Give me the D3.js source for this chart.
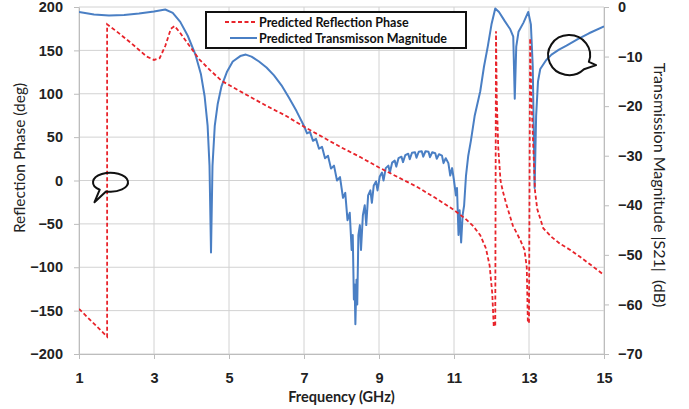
<!DOCTYPE html>
<html>
<head>
<meta charset="utf-8">
<script src="https://cdn.jsdelivr.net/npm/d3@7"></script>
<style>
  body { margin: 0; background: #fff; }
  svg { display: block; font-family: Lato, "Open Sans", sans-serif; }
  .tick text { font-weight: bold; font-size: 14.5px; fill: #222; }
  .domain, .tick line { stroke: #bdbdbd; }
</style>
</head>
<body>
<div id="chart-area"></div>
<script>
// reflection phase (deg), left axis
const phaseFreq = [1.0, 1.75, 1.75, 2.0, 2.4, 2.8, 3.0, 3.15, 3.3, 3.45, 3.55, 3.7, 3.9, 4.2, 4.5, 4.8, 5.0, 5.5, 6.0, 6.5, 7.0, 7.5, 8.0, 8.5, 9.0, 9.5, 10.0, 10.5, 11.0, 11.3, 11.5, 11.7, 11.85, 11.95, 12.02, 12.06, 12.1, 12.12, 12.14, 12.18, 12.24, 12.3, 12.4, 12.57, 12.76, 12.88, 12.94, 12.97, 13.0, 13.03, 13.06, 13.1, 13.16, 13.22, 13.38, 13.6, 13.83, 14.1, 14.36, 14.7, 15.0];
const phaseDeg = [-148, -180, 180, 172, 158, 143, 139, 141, 155, 175, 178, 170, 158, 140, 127, 115, 110, 98, 86, 75, 62, 50, 38, 27, 15, 4, -7, -20, -34, -44, -52, -63, -78, -98, -130, -168, -168, 172, 95, 38, 0, -12, -28, -52, -68, -80, -100, -164, -164, 164, 100, 55, -12, -33, -55, -65, -73, -80, -88, -99, -109];

// transmission magnitude |S21| (dB), right axis
const magFreq = [1.0, 1.4, 1.8, 2.2, 2.6, 3.0, 3.3, 3.5, 3.7, 3.9, 4.1, 4.25, 4.35, 4.43, 4.48, 4.52, 4.56, 4.62, 4.7, 4.8, 4.95, 5.1, 5.3, 5.45, 5.6, 5.8, 6.0, 6.2, 6.4, 6.6, 6.8,
  7.0, 7.08, 7.16, 7.24, 7.32, 7.4, 7.48, 7.56, 7.64, 7.72, 7.8, 7.88, 7.96, 8.04, 8.1, 8.16, 8.22, 8.27, 8.3, 8.33, 8.35, 8.37, 8.4, 8.42, 8.45, 8.49, 8.52, 8.57, 8.62, 8.66, 8.71, 8.77, 8.81, 8.86, 8.92, 8.96,
  9.02, 9.08, 9.12, 9.18, 9.25, 9.29, 9.35, 9.42, 9.46, 9.52, 9.6, 9.64, 9.7, 9.78, 9.82, 9.88, 9.96, 10.0, 10.06, 10.14, 10.18, 10.24, 10.32, 10.36, 10.42, 10.5, 10.54, 10.6, 10.68, 10.72, 10.78, 10.85, 10.9, 10.95,
  11.0, 11.05, 11.08, 11.12, 11.15, 11.19, 11.23, 11.27, 11.32, 11.38, 11.45, 11.55, 11.7, 11.8, 11.9, 12.0, 12.1, 12.2, 12.35, 12.5, 12.58, 12.62, 12.66, 12.72, 12.85, 12.98, 13.05, 13.1, 13.15, 13.19, 13.24, 13.3, 13.45, 13.6, 13.8, 14.0, 14.3, 14.6, 15.0];
const magDb = [-1.0, -1.5, -1.7, -1.6, -1.3, -0.9, -0.5, -1.2, -3.0, -5.8, -9.5, -13.5, -18, -24, -32, -49.5, -32, -24, -19.5, -16, -13, -11, -9.9, -9.6, -10.0, -11.0, -12.2, -13.8, -15.8, -18.3, -21,
  -24.0, -25.5, -25.2, -27.0, -26.6, -28.6, -28.2, -30.5, -30.0, -32.6, -32.0, -35.0, -34.3, -38.5, -37.5, -43, -41.5, -49, -46, -59, -56, -64, -55, -60, -46, -44, -49, -42, -40, -44, -38, -37, -39.5, -36, -35.2, -37,
  -34.2, -33.4, -35, -32.5, -32, -33.4, -31.4, -31, -32.2, -30.5, -30.2, -31.3, -29.9, -29.6, -30.7, -29.4, -29.3, -30.4, -29.2, -29.1, -30.2, -29.1, -29.2, -30.3, -29.3, -29.5, -30.6, -29.7, -30.0, -31.5, -30.5, -31.5, -34, -32.5,
  -35, -38, -36.5, -46, -41, -47.5, -42, -40, -34, -30, -27, -22, -17, -12, -8, -3.5, -0.3, -1.0, -2.8, -4.5, -6, -18.5, -8, -5, -3.2, -1.0, -3.5, -12, -36.5, -22, -15, -12.5, -10.8, -9.6, -8.6, -7.8, -6.5, -5.3, -3.9];

const xTicks = [1, 3, 5, 7, 9, 11, 13, 15];
const phaseTicks = [-200, -150, -100, -50, 0, 50, 100, 150, 200];
const dbTicks = [-70, -60, -50, -40, -30, -20, -10, 0];

const margin = { top: 7, right: 85, bottom: 55, left: 79 };
const width = 689 - margin.left - margin.right;
const height = 409 - margin.top - margin.bottom;

const svg = d3.select("#chart-area")
  .append("svg")
    .attr("width", 689)
    .attr("height", 409);

const g = svg.append("g")
  .attr("transform", `translate(${margin.left}, ${margin.top})`);

const x = d3.scaleLinear().domain([1, 15]).range([0, width]);
const yL = d3.scaleLinear().domain([-200, 200]).range([height, 0]);
const yR = d3.scaleLinear().domain([-70, 0]).range([height, 0]);

// gridlines
g.append("g")
  .selectAll("line.h")
  .data(phaseTicks)
  .enter().append("line")
    .attr("x1", 0).attr("x2", width)
    .attr("y1", d => yL(d)).attr("y2", d => yL(d))
    .attr("stroke", "#d2d2d2");

g.append("g")
  .selectAll("line.v")
  .data(xTicks)
  .enter().append("line")
    .attr("x1", d => x(d)).attr("x2", d => x(d))
    .attr("y1", 0).attr("y2", height)
    .attr("stroke", "#d2d2d2");

g.append("g")
  .attr("transform", `translate(0, ${height})`)
  .call(d3.axisBottom(x).tickValues(xTicks).tickSize(5).tickSizeOuter(0).tickPadding(14));

g.append("g")
  .call(d3.axisLeft(yL).tickValues(phaseTicks).tickSize(5).tickSizeOuter(0).tickPadding(11));

g.append("g")
  .attr("transform", `translate(${width}, 0)`)
  .call(d3.axisRight(yR).tickValues(dbTicks).tickSize(5).tickSizeOuter(0).tickPadding(9));

// axis titles
g.append("text")
  .attr("x", width / 2)
  .attr("y", height + 48)
  .attr("text-anchor", "middle")
  .attr("font-size", "14.5px")
  .attr("font-weight", "bold")
  .attr("fill", "#222")
  .text("Frequency (GHz)");

g.append("text")
  .attr("transform", `translate(${-54}, ${151}) rotate(-90)`)
  .attr("text-anchor", "middle")
  .attr("font-size", "15.5px")
  .attr("fill", "#222")
  .text("Reflection Phase (deg)");

g.append("text")
  .attr("transform", `translate(${width + 50}, ${178}) rotate(90)`)
  .attr("text-anchor", "middle")
  .attr("font-size", "16px")
  .attr("fill", "#222")
  .attr("xml:space", "preserve")
  .text("Transmission Magnitude |S21|  (dB)");

g.append("clipPath").attr("id", "plot-clip")
  .append("rect").attr("width", width).attr("height", height + 2).attr("y", -1);

const phaseLine = d3.line()
  .x((d, i) => x(phaseFreq[i]))
  .y(d => yL(d));

const magLine = d3.line()
  .x((d, i) => x(magFreq[i]))
  .y(d => yR(d));

g.append("path")
  .attr("clip-path", "url(#plot-clip)")
  .attr("d", magLine(magDb))
  .attr("fill", "none")
  .attr("stroke", "#4a7fc4")
  .attr("stroke-width", 2)
  .attr("stroke-linejoin", "round");

g.append("path")
  .attr("clip-path", "url(#plot-clip)")
  .attr("d", phaseLine(phaseDeg))
  .attr("fill", "none")
  .attr("stroke", "#e8242b")
  .attr("stroke-width", 1.8)
  .attr("stroke-dasharray", "4,2.5");

// legend
const legend = svg.append("g").attr("transform", "translate(206, 12)");
legend.append("rect")
  .attr("width", 260).attr("height", 36)
  .attr("fill", "#fff")
  .attr("stroke", "#111")
  .attr("stroke-width", 2);
legend.append("line")
  .attr("x1", 19).attr("x2", 51).attr("y1", 10).attr("y2", 10)
  .attr("stroke", "#e8242b").attr("stroke-width", 1.8).attr("stroke-dasharray", "4,2.5");
legend.append("line")
  .attr("x1", 24).attr("x2", 51).attr("y1", 26).attr("y2", 26)
  .attr("stroke", "#4a7fc4").attr("stroke-width", 2);
legend.append("text")
  .attr("x", 53).attr("y", 14.5)
  .attr("font-size", "12.5px").attr("font-weight", "bold").attr("fill", "#111")
  .text("Predicted Reflection Phase");
legend.append("text")
  .attr("x", 53).attr("y", 30.5)
  .attr("font-size", "12.5px").attr("font-weight", "bold").attr("fill", "#111")
  .text("Predicted Transmisson Magnitude");

// speech bubbles: ellipse with a tail, angles in degrees (screen coords, clockwise)
function bubblePath(cx, cy, rx, ry, a0, a1, tipX, tipY) {
  const pt = a => [cx + rx * Math.cos(a * Math.PI / 180), cy + ry * Math.sin(a * Math.PI / 180)];
  const s = pt(a0), e = pt(a1);
  return `M${s[0]},${s[1]} A${rx},${ry} 0 1,1 ${e[0]},${e[1]} L${tipX},${tipY} Z`;
}

const b1x = x(1.84), b1y = yL(-2);
g.append("path")
  .attr("d", bubblePath(b1x, b1y, 17.5, 9.5, 128, 465, b1x - 16, b1y + 20))
  .attr("fill", "none").attr("stroke", "#111").attr("stroke-width", 2).attr("stroke-linejoin", "round");

const b2x = x(14.07), b2y = yR(-9.7);
g.append("path")
  .attr("d", bubblePath(b2x, b2y, 21, 20, 45, 380, b2x + 27, b2y + 10))
  .attr("fill", "none").attr("stroke", "#111").attr("stroke-width", 2).attr("stroke-linejoin", "round");
</script>
</body>
</html>
